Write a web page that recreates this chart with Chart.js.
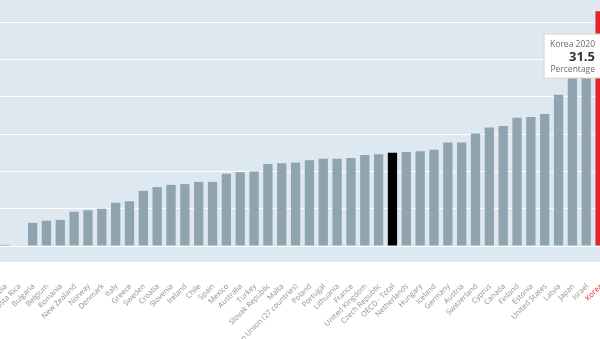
<!DOCTYPE html>
<html>
<head>
<meta charset="utf-8">
<script src="https://cdn.jsdelivr.net/npm/chart.js@4/dist/chart.umd.min.js"></script>
<style>
  html, body { margin: 0; padding: 0; width: 600px; height: 339px; overflow: hidden; background: #fff; }
  .wrap {
    position: relative; width: 600px; height: 339px; overflow: hidden;
    background: linear-gradient(to bottom, #dde8f1 0, #dde8f1 262px, #fff 262px);
  }
  .box { position: absolute; left: -2px; top: 0; width: 609px; height: 339px; }
</style>
</head>
<body>
<div class="wrap"><div class="box"><canvas id="main_chart"></canvas></div></div>
<script>
// chart data
const countries = ["Colombia", "Costa Rica", "Bulgaria", "Belgium", "Romania", "New Zealand", "Norway", "Denmark",
    "Italy", "Greece", "Sweden", "Croatia", "Slovenia", "Ireland", "Chile", "Spain", "Mexico", "Australia",
    "Turkey", "Slovak Republic", "Malta", "European Union (27 countries)", "Poland", "Portugal", "Lithuania",
    "France", "United Kingdom", "Czech Republic", "OECD - Total", "Netherlands", "Hungary", "Iceland",
    "Germany", "Austria", "Switzerland", "Cyprus", "Canada", "Finland", "Estonia", "United States",
    "Latvia", "Japan", "Israel", "Korea"];
const gapValues = [0.15, 0, 3.1, 3.4, 3.5, 4.6, 4.8, 5.0,
    5.8, 6.0, 7.4, 7.9, 8.2, 8.3, 8.6, 8.6, 9.7, 9.9,
    10.0, 11.0, 11.1, 11.2, 11.5, 11.7, 11.7,
    11.8, 12.2, 12.3, 12.5, 12.6, 12.7, 12.9,
    13.9, 13.9, 15.1, 15.9, 16.1, 17.2, 17.3, 17.7,
    20.3, 22.5, 22.7, 31.5];
const yTicks = [0, 5, 10, 15, 20, 25, 30];
const highlight = "Korea";
const average = "OECD - Total";
const year = "2020";

const grey = '#8fa3b1';
const red = '#e3242b';

// tooltip pinned to the top right, like the screenshot
Chart.Tooltip.positioners.pinned = function (items) {
    if (!items.length) return false;
    return { x: this.chart.width - 4, y: 34 };
};

let chart1 = new Chart(document.getElementById('main_chart'), {
    type: 'bar',
    data: {
        labels: countries,
        datasets: [{
            label: "Percentage",
            data: gapValues,
            backgroundColor: (ctx) => {
                const c = countries[ctx.index];
                if (c == highlight) return red;
                if (c == average) return '#000';
                return grey;
            },
            barPercentage: 0.67,
            categoryPercentage: 1,
        }]
    },
    options: {
        responsive: true,
        maintainAspectRatio: false,
        animation: false,
        layout: { padding: 0 },
        events: [],
        plugins: {
            legend: { display: false },
            tooltip: {
                position: 'pinned',
                xAlign: 'right',
                yAlign: 'top',
                caretSize: 0,
                caretPadding: 0,
                cornerRadius: 0,
                backgroundColor: '#fff',
                borderColor: '#d6d6d6',
                borderWidth: 1,
                displayColors: false,
                padding: { top: 5, bottom: 3, left: 6, right: 8 },
                titleAlign: 'right',
                bodyAlign: 'right',
                footerAlign: 'right',
                titleColor: '#6b6b6b',
                bodyColor: '#333',
                footerColor: '#6b6b6b',
                titleFont: { family: 'Open Sans', size: 8.5, weight: 'normal' },
                bodyFont: { family: 'Open Sans', size: 13, weight: 'bold' },
                footerFont: { family: 'Open Sans', size: 8.5, weight: 'normal' },
                titleMarginBottom: 0,
                footerMarginTop: 0,
                callbacks: {
                    title: (items) => items[0].label + ' ' + year,
                    label: (item) => item.parsed.y.toFixed(1),
                    footer: () => 'Percentage'
                }
            }
        },
        scales: {
            x: {
                border: { display: false },
                grid: { display: false, drawTicks: false },
                ticks: {
                    autoSkip: false,
                    minRotation: 45,
                    maxRotation: 45,
                    padding: 36,
                    labelOffset: 1,
                    color: (ctx) => countries[ctx.index] == highlight ? red : '#909090',
                    font: { family: 'Open Sans', size: 7.5 }
                },
                afterFit: (s) => {
                    s.height = 93;
                    s.paddingLeft = 0;
                    s.paddingRight = 0;
                }
            },
            y: {
                min: 0,
                max: 33,
                border: { display: false },
                grid: { color: 'rgba(255,255,255,0.95)', lineWidth: 1, drawTicks: false },
                afterBuildTicks: (s) => { s.ticks = yTicks.map(v => ({ value: v })); },
                ticks: { display: false },
                afterFit: (s) => { s.width = 0; }
            }
        }
    }
});

chart1.tooltip.setActiveElements([{ datasetIndex: 0, index: countries.indexOf(highlight) }], { x: 0, y: 0 });
chart1.update();
</script>
</body>
</html>
